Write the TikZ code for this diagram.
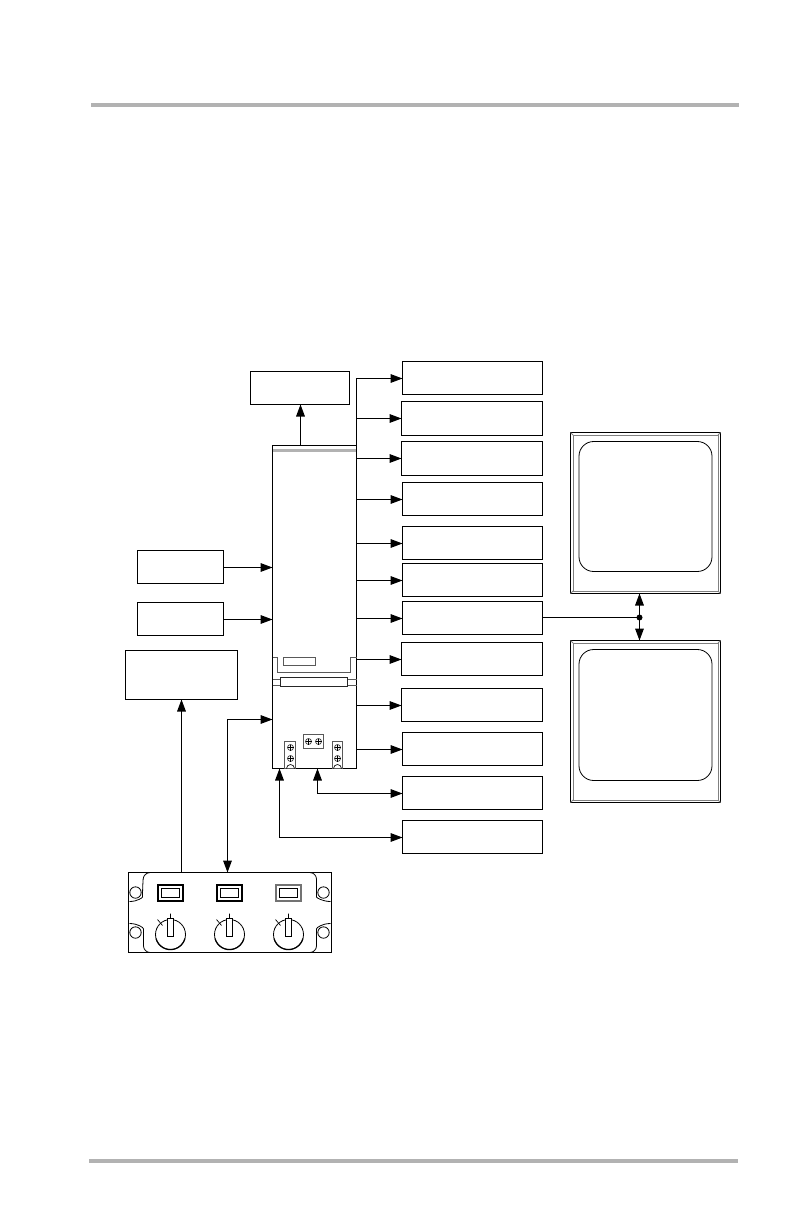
\documentclass[tikz,border=0pt]{standalone}
\usetikzlibrary{arrows.meta,calc}
\tikzset{
  x=0.75pt,y=-0.75pt,
  unitbox/.style={draw=black,line width=0.8pt,fill=white,inner sep=0pt,outer sep=0pt,anchor=north west},
  arr/.style={line width=0.8pt,-{Triangle[length=9pt,width=6.5pt]}},
  darr/.style={line width=0.8pt,{Triangle[length=9pt,width=6.5pt]}-{Triangle[length=9pt,width=6.5pt]}},
  plain/.style={line width=0.8pt},
  thin line/.style={line width=0.6pt,draw=black!65},
  rule/.style={line width=3pt,draw=black!30},
  bevel/.style={line width=0.7pt,draw=black!50},
  screw/.style={draw=black!80,line width=0.5pt,fill=white},
}
\newcommand{\rbox}[5]{\node[unitbox,minimum width=#4*0.75pt-#2*0.75pt,minimum height=#5*0.75pt-#3*0.75pt] (#1) at (#2,#3) {};}
\newcommand{\screwat}[2]{\draw[screw] (#1,#2) circle (3); \draw[line width=0.5pt] (#1-3,#2)--(#1+3,#2) (#1,#2-3)--(#1,#2+3);}
\newcommand{\dispunit}[4]{%
  \draw[line width=0.8pt,fill=white] (#1,#2) rectangle (#3,#4);
  \draw[bevel] (#1+2.5,#2+2.5) rectangle (#3-2.5,#4-2.5);
  \draw[bevel] (#1,#2)--(#1+2.5,#2+2.5) (#3,#2)--(#3-2.5,#2+2.5) (#1,#4)--(#1+2.5,#4-2.5) (#3,#4)--(#3-2.5,#4-2.5);
  \draw[line width=0.6pt,rounded corners=11pt] (#1+8.5,#2+9) rectangle (#3-8.5,#4-22);
}
\newcommand{\ctlset}[2]{%
  \draw[line width=1.3pt,draw=#2] (#1-12.5,884.5) rectangle (#1+12.5,900.5);
  \draw[line width=0.5pt] (#1-9,888) rectangle (#1+9,897);
  \draw[line width=0.6pt] (#1,934) circle (15);
  \draw[line width=0.5pt] (#1,913)--(#1,919) (#1-13,919)--(#1-8,925);
  \draw[line width=0.9pt] (#1-14.5,938) arc (165:15:15);
  \draw[line width=0.5pt,fill=white] (#1-3,918) rectangle (#1+3,936);
}
\begin{document}
\begin{tikzpicture}
\useasboundingbox[fill=white] (0,0) rectangle (794,1224);
\draw[rule] (91,105)--(739,105);
\draw[rule] (89,1161)--(738,1161);
\begin{scope}[shift={(0.5,0.5)}]
% main unit
\rbox{main}{272}{445}{356}{768}
\rbox{top}{250}{371}{349}{404}
\rbox{la}{137}{550}{223}{583}
\rbox{lb}{137}{602}{223}{635}
\rbox{lc}{125}{650}{237}{699}
\rbox{ba}{402}{361}{542}{394}
\rbox{bb}{401}{401}{542}{435}
\rbox{bc}{401}{441}{542}{475}
\rbox{bd}{402}{482}{542}{515}
\rbox{be}{402}{526}{542}{559}
\rbox{bf}{402}{563}{542}{596}
\rbox{bg}{402}{601}{542}{634}
\rbox{bh}{401}{642}{542}{675}
\rbox{bi}{401}{688}{542}{721}
\rbox{bj}{402}{732}{542}{765}
\rbox{bk}{402}{776}{542}{809}
\rbox{bl}{402}{820}{542}{853}
\rbox{panel}{128}{872}{331}{952}

% main unit details
\draw[line width=1.6pt,draw=black!30] (272.5,450)--(355.5,450);
\draw[thin line] (283,657) rectangle (315,665);
\draw[thin line] (272,657)--(277,657)--(277,672) (356,657)--(350,657)--(350,672);
\draw[thin line] (277,672)--(350,672);
\draw[thin line] (272,679)--(280,679) (272,685)--(280,685) (347,679)--(356,679) (347,685)--(356,685);
\draw[line width=0.8pt,draw=black!85] (280,677) rectangle (347,686);
\draw[thin line] (303,734) rectangle (323,748);
\screwat{308}{741}\screwat{318}{741}
\draw[thin line] (284,741) rectangle (295,768);
\draw[thin line] (332,741) rectangle (342,768);
\screwat{290}{747}\screwat{290}{758}
\screwat{337}{747}\screwat{337}{758}
\draw[line width=0.5pt] (286,768) arc (180:360:4);
\draw[line width=0.5pt] (333,768) arc (180:360:4);

% control panel details
\draw[line width=0.6pt,rounded corners=5pt]
  (150,952)--(143,952)--(143,935)
  .. controls (143,927) and (137,923) .. (129,923);
\draw[line width=0.6pt,rounded corners=5pt]
  (129,901) .. controls (137,901) and (142,897) .. (142,890)--(143,872)--(150,872);
\draw[line width=0.6pt,rounded corners=5pt]
  (310,952)--(316,952)--(316,935)
  .. controls (316,927) and (322,923) .. (330,923);
\draw[line width=0.6pt,rounded corners=5pt]
  (330,901) .. controls (322,901) and (316,897) .. (316,890)--(316,872)--(310,872);
\foreach \cx/\cy in {135/892,135/932,323/892,323/932}
  \draw[line width=0.6pt] (\cx,\cy) circle (5.7);
\ctlset{170}{black}
\ctlset{229}{black}
\ctlset{288}{black!55}

% display units
\dispunit{570}{432}{720}{593}
\dispunit{570}{640}{720}{802}

% connectors
\draw[plain] (main.north east) -- (ba.west -| main.east);
\foreach \b/\s in {ba/0.5,bb/0,bc/0,bd/0.5,be/0.5,bf/0.5,bg/0.5,bh/0.5,bi/0.5,bj/0.5}{
  \coordinate (tip) at ($(\b.west)+(0,\s)$);
  \draw[arr] (tip -| main.east) -- (tip);
}
\coordinate (toptip) at ($(top.south)+(0.5,0)$);
\draw[arr] (main.north -| toptip) -- (toptip);
\coordinate (latail) at ($(la.east)+(0,0.5)$);
\coordinate (lbtail) at ($(lb.east)+(0,0.5)$);
\draw[arr] (latail) -- (latail -| main.west);
\draw[arr] (lbtail) -- (lbtail -| main.west);
\draw[arr] (panel.north -| lc.south) -- (lc.south);
\coordinate (cfa) at (227,719);
\draw[darr] (main.west |- cfa) -- (cfa) -- (cfa |- panel.north);
\coordinate (cfb) at (317,768);
\coordinate (bktip) at ($(bk.west)+(0,0.5)$);
\draw[darr] (cfb) -- (cfb |- bktip) -- (bktip);
\coordinate (cfc) at (279,768);
\coordinate (bltip) at ($(bl.west)+(0,0.5)$);
\draw[darr] (cfc) -- (cfc |- bltip) -- (bltip);
\coordinate (junc) at (639,617);
\coordinate (jtop) at (639,593);
\coordinate (jbot) at (639,640);
\draw[darr] (jtop) -- (jbot);
\draw[plain] (bg.east |- junc) -- (junc);
\fill (junc) circle (3);
\end{scope}
\end{tikzpicture}
\end{document}
